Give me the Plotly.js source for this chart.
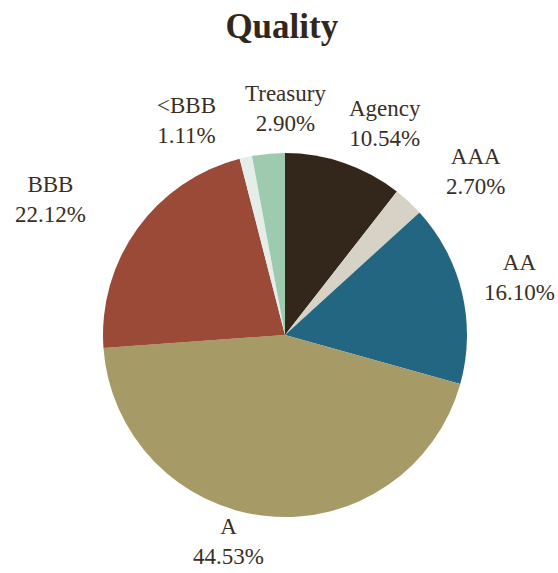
<!DOCTYPE html>
<html>
<head>
<meta charset="utf-8">
<script src="https://cdn.plot.ly/plotly-3.0.1.min.js"></script>
<style>html,body{margin:0;padding:0;background:#fff;}#chart{width:558px;height:573px;}</style>
</head>
<body>
<div id="chart"></div>
<script>
var categories = ["Agency", "AAA", "AA", "A", "BBB", "<BBB", "Treasury"];
var values = [10.54, 2.70, 16.10, 44.53, 22.12, 1.11, 2.90];
var colors = ["#33261a", "#d7d2c6", "#236682", "#a69a66", "#9a4a36", "#e4ede7", "#9ecab0"];
// label centres in pixels (x from left, y from top)
var labelPx = [[385, 124], [476, 171], [519, 277], [228, 541], [50, 199], [186, 121], [285, 109]];

var W = 558, H = 573;
var cx = 285, cy = 335, r = 182;
var serif = "'Times New Roman', Times, 'Liberation Serif', serif";

var annotations = categories.map(function (c, i) {
  return {
    text: c.replace("<", "&lt;") + "<br>" + values[i].toFixed(2) + "%",
    x: labelPx[i][0] / W, y: 1 - labelPx[i][1] / H,
    xref: "paper", yref: "paper", xanchor: "center", yanchor: "middle",
    showarrow: false,
    font: {family: serif, size: 23, color: "#3a2e24"}
  };
});

var data = [{
  type: "pie",
  labels: categories,
  values: values,
  sort: false,
  direction: "clockwise",
  rotation: 0,
  marker: {colors: colors, line: {width: 0}},
  textinfo: "none",
  hoverinfo: "label+percent",
  showlegend: false,
  domain: {x: [(cx - r) / W, (cx + r) / W], y: [1 - (cy + r) / H, 1 - (cy - r) / H]}
}];

var layout = {
  width: W, height: H,
  margin: {l: 0, r: 0, t: 0, b: 0},
  paper_bgcolor: "#ffffff",
  font: {family: serif},
  title: {text: "<b>Quality</b>", x: 0.505, xanchor: "center", y: 1 - 26 / H, yanchor: "middle",
          font: {family: serif, size: 35, color: "#33261a"}},
  annotations: annotations,
  showlegend: false
};

Plotly.newPlot("chart", data, layout, {displayModeBar: false, staticPlot: true});
</script>
</body>
</html>
